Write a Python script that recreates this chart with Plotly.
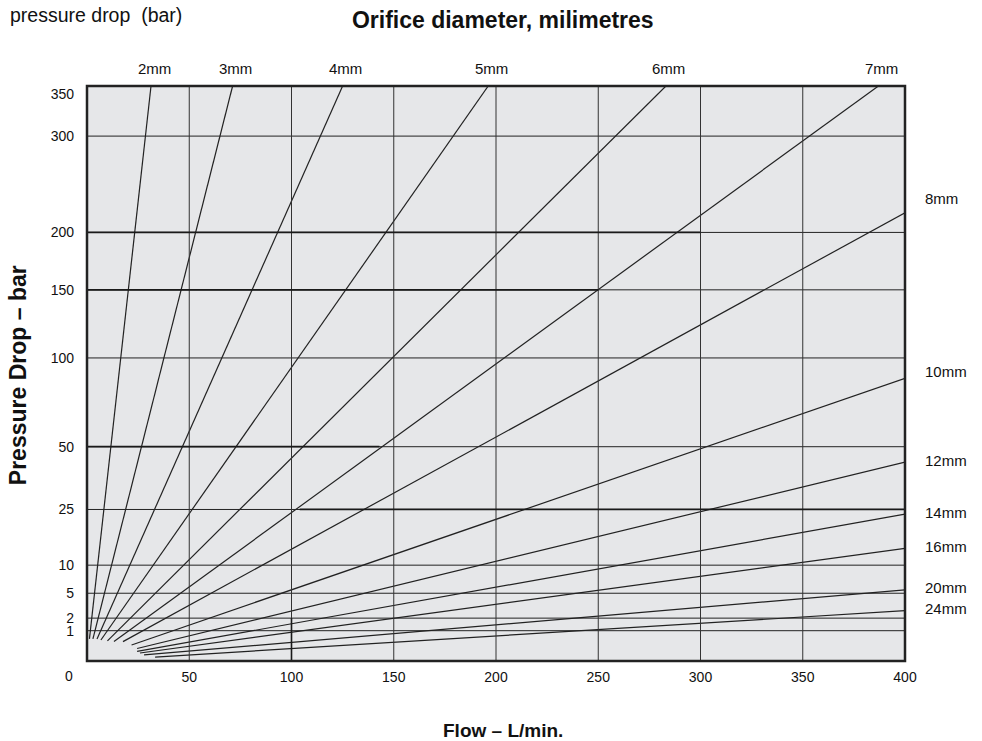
import numpy as np
import plotly.graph_objects as go

# orifice diameters and where each line starts / leaves the plot (flow L/min, pressure bar)
sizes = ["2mm", "3mm", "4mm", "5mm", "6mm", "7mm", "8mm",
         "10mm", "12mm", "14mm", "16mm", "20mm", "24mm"]
flow_start = [1.2, 2.9, 4.9, 6.8, 10.0, 13.2, 17.6, 21.8, 24.5, 24.5, 25.9, 27.9, 33.3]
dp_start = [0.53, 0.53, 0.53, 0.48, 0.44, 0.41, 0.41, 0.28, 0.17, 0.10, 0.07, 0.04, 0.017]
flow_end = [31.3, 71.2, 125.0, 196.2, 283.1, 387.0, 400, 400, 400, 400, 400, 400, 400]
dp_end = [360, 360, 360, 360, 360, 360, 218.8, 87.0, 43.1, 23.5, 13.8, 5.5, 2.76]

dp_ticks = [0, 1, 2, 5, 10, 25, 50, 100, 150, 200, 300, 350]
flow_ticks = [50, 100, 150, 200, 250, 300, 350, 400]
flow_max = 400
dp_max = 360

FONT = "Arial, Liberation Sans, Helvetica, sans-serif"
INK = "#222222"

# pressure axis is a square-root scale, so every orifice curve is a straight line
def sq(v):
    return np.sqrt(np.asarray(v, dtype=float))

fig = go.Figure()
for name, x0, y0, x1, y1 in zip(sizes, flow_start, dp_start, flow_end, dp_end):
    fig.add_trace(go.Scatter(x=[x0, x1], y=sq([y0, y1]), mode="lines",
                             line=dict(color=INK, width=1.2), name=name,
                             showlegend=False, hoverinfo="skip"))

# grid (drawn as shapes so the top one can merge into the frame)
shapes = []
for t in dp_ticks[1:-1]:
    shapes.append(dict(type="line", xref="paper", x0=0, x1=1, yref="y",
                       y0=float(sq(t)), y1=float(sq(t)),
                       line=dict(color=INK, width=1), layer="above"))
for t in flow_ticks[:-1]:
    shapes.append(dict(type="line", yref="paper", y0=0, y1=1, xref="x",
                       x0=t, x1=t, line=dict(color="#333333", width=1), layer="above"))

# the printed original has a few heavier stretches of grid line
heavy = [("h", 200, 0, 300), ("h", 150, 0, 250), ("h", 50, 0, 143),
         ("h", 25, 104, 400), ("v", 100, 0, 2)]
for kind, at, a, b in heavy:
    if kind == "h":
        shapes.append(dict(type="line", xref="x", x0=a, x1=b, yref="y",
                           y0=float(sq(at)), y1=float(sq(at)),
                           line=dict(color="#1a1a1a", width=1.7), layer="above"))
    else:
        shapes.append(dict(type="line", xref="x", x0=at, x1=at, yref="y",
                           y0=float(sq(a)), y1=float(sq(b)),
                           line=dict(color="#1a1a1a", width=1.6), layer="above"))

shapes.append(dict(type="rect", xref="paper", yref="paper", x0=0, x1=1, y0=0, y1=1,
                   line=dict(color=INK, width=2.5), layer="above"))

annotations = []
lift = {"8mm": 12, "10mm": 5}
for name, x1, y1 in zip(sizes, flow_end, dp_end):
    if x1 < flow_max:
        annotations.append(dict(x=x1, xref="x", y=1, yref="paper", text=name,
                                showarrow=False, xanchor="center", yanchor="middle",
                                xshift=3, yshift=18, font=dict(size=15, color="#111")))
    else:
        annotations.append(dict(x=x1, xref="x", y=float(sq(y1)), yref="y", text=name,
                                showarrow=False, xanchor="left", yanchor="middle",
                                xshift=18, yshift=2 + lift.get(name, 0),
                                font=dict(size=15, color="#111")))

annotations += [
    dict(text="0", x=0, xref="x", y=0, yref="y", showarrow=False,
         xanchor="right", yanchor="middle", xshift=-12, yshift=-15,
         font=dict(size=14, color="#111")),
    dict(text="pressure drop  (bar)", x=-0.0966, xref="paper", y=1.1235, yref="paper",
         showarrow=False, xanchor="left", yanchor="middle",
         font=dict(size=19.5, color="#111")),
    dict(text="<b>Flow – L/min.</b>", x=0.5086, xref="paper", y=-0.12, yref="paper",
         showarrow=False, xanchor="center", yanchor="middle",
         font=dict(size=19, color="#111")),
    dict(text="<b>Pressure Drop – bar</b>", x=-0.0844, xref="paper", y=0.497, yref="paper",
         showarrow=False, xanchor="center", yanchor="middle", textangle=-90,
         font=dict(size=23, color="#111")),
]

fig.update_layout(
    width=982, height=741,
    margin=dict(l=87, r=77, t=86, b=80),
    paper_bgcolor="white", plot_bgcolor="#e6e7e9",
    font=dict(family=FONT, size=14, color="#111"),
    title=dict(text="<b>Orifice diameter, milimetres</b>", x=0.512, y=0.973,
               xanchor="center", yanchor="middle", font=dict(size=23, color="#111")),
    shapes=shapes, annotations=annotations, showlegend=False,
)
fig.update_xaxes(range=[0, flow_max], tickvals=flow_ticks, showgrid=False,
                 zeroline=False, ticks="", ticklabelstandoff=6, fixedrange=True)
fig.update_yaxes(range=[0, float(sq(dp_max))], tickvals=sq(dp_ticks[1:]),
                 ticktext=[str(t) for t in dp_ticks[1:]], showgrid=False,
                 zeroline=False, ticks="", ticklabelstandoff=12, fixedrange=True)

fig.write_html("out.html", config={"displayModeBar": False},
               post_script="document.body.style.margin='0';")
